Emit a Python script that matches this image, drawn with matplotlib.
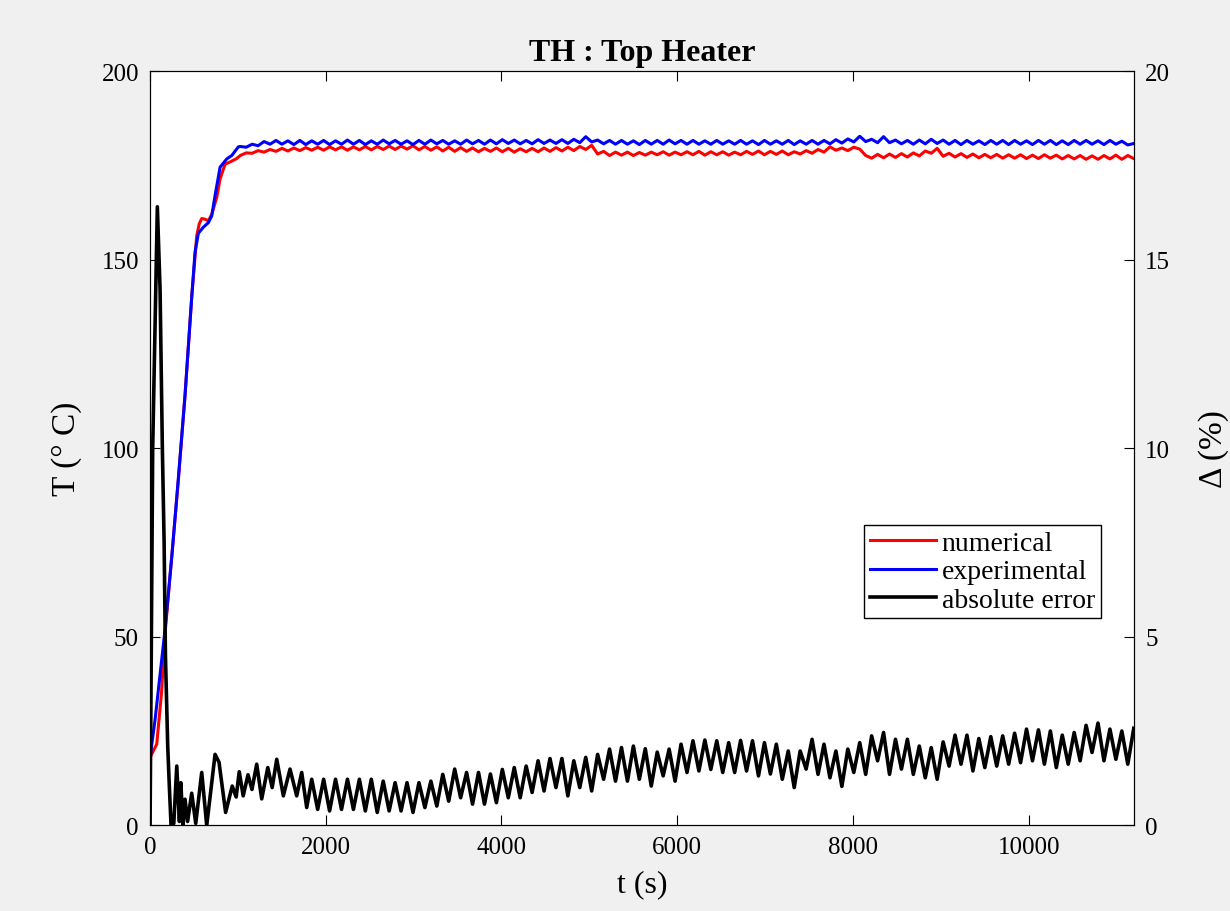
#!/usr/bin/env python
import sys
import numpy as np
import matplotlib
matplotlib.use('Agg')
import matplotlib.pyplot as plt

# sampling of the periodic part (s)
dt_s       = 67.8
grid_start = 1026.4
err_start  = 1840.0

# start-up phase
blue_t_early = [0, 57, 171, 250, 322, 398, 474, 512, 550, 607, 664, 702, 740, 797, 873, 930, 1005]
blue_v_early = [18.0, 28.0, 52.0, 72.0, 92.0, 114.0, 140.0, 152.0, 157.0, 158.6, 159.8, 161.6,
                167.0, 174.5, 176.7, 177.6, 179.9]

red_t_early = [0, 76, 130, 171, 250, 322, 398, 474, 531, 560, 588, 626, 664, 702, 759, 797,
               854, 911, 986]
red_v_early = [18.0, 21.5, 35.0, 51.0, 72.0, 91.5, 114.0, 140.0, 156.3, 159.5, 160.9, 160.7,
               160.3, 162.0, 166.5, 171.4, 175.3, 175.9, 176.8]

err_t_early = [0, 30, 83, 114, 140, 160, 175, 201, 220, 239,
               270, 304, 334, 350, 375, 398, 427, 474, 520, 588,
               645, 740, 785, 860, 935, 980, 1015, 1060, 1115, 1160,
               1214, 1271, 1340, 1390, 1442, 1517, 1593, 1669, 1726, 1783]
err_v_early = [0.0, 10.0, 16.4, 14.2, 10.0, 7.5, 4.5, 2.1, 1.0, 0.0,
               0.05, 1.57, 0.1, 1.13, 0.0, 0.69, 0.1, 0.85, 0.05, 1.4,
               0.0, 1.88, 1.67, 0.34, 1.04, 0.75, 1.42, 0.78, 1.34, 0.95,
               1.62, 0.70, 1.53, 1.0, 1.75, 0.78, 1.49, 0.78, 1.40, 0.47]

# plateau, one value per half oscillation
blue_v_grid = [
    180.0, 179.8, 180.6, 180.2, 181.3, 180.6, 181.6, 180.6, 181.5, 180.5,
    181.6, 180.5, 181.5, 180.6, 181.6, 180.5, 181.5, 180.6, 181.7, 180.6,
    181.6, 180.5, 181.5, 180.6, 181.7, 180.7, 181.6, 180.6, 181.5, 180.5,
    181.6, 180.6, 181.7, 180.7, 181.6, 180.6, 181.5, 180.6, 181.7, 180.7,
    181.6, 180.6, 181.7, 180.7, 181.8, 180.8, 181.7, 180.7, 181.6, 180.7,
    181.8, 180.8, 181.7, 180.8, 181.8, 180.8, 181.9, 181.0, 182.6, 181.2,
    181.7, 180.7, 181.6, 180.6, 181.6, 180.6, 181.5, 180.5, 181.6, 180.6,
    181.6, 180.6, 181.7, 180.7, 181.6, 180.6, 181.6, 180.6, 181.5, 180.6,
    181.6, 180.6, 181.5, 180.6, 181.6, 180.6, 181.5, 180.5, 181.6, 180.6,
    181.5, 180.6, 181.6, 180.5, 181.5, 180.6, 181.6, 180.6, 181.6, 180.7,
    181.8, 180.9, 182.0, 181.2, 182.7, 181.3, 181.9, 181.0, 182.6, 181.0,
    181.7, 180.7, 181.6, 180.6, 181.7, 180.7, 181.9, 180.8, 181.7, 180.6,
    181.6, 180.5, 181.6, 180.6, 181.5, 180.5, 181.6, 180.6, 181.6, 180.5,
    181.6, 180.6, 181.5, 180.5, 181.6, 180.6, 181.6, 180.5, 181.5, 180.5,
    181.6, 180.6, 181.6, 180.6, 181.5, 180.5, 181.6, 180.6, 181.4, 180.4,
    180.8]

red_v_grid = [
    177.6, 178.3, 178.2, 178.9, 178.5, 179.2, 178.7, 179.5, 178.8, 179.6,
    178.9, 179.7, 179.0, 179.8, 179.0, 179.9, 179.1, 179.9, 179.0, 179.9,
    179.1, 180.0, 179.1, 180.0, 179.2, 180.1, 179.2, 180.1, 179.3, 180.2,
    179.1, 180.0, 179.0, 179.9, 178.8, 179.8, 178.7, 179.7, 178.7, 179.6,
    178.6, 179.5, 178.7, 179.6, 178.6, 179.5, 178.5, 179.4, 178.6, 179.5,
    178.6, 179.6, 178.7, 179.7, 178.8, 179.8, 178.9, 180.0, 179.2, 180.3,
    178.0, 178.7, 177.6, 178.5, 177.7, 178.5, 177.6, 178.4, 177.7, 178.5,
    177.8, 178.6, 177.7, 178.5, 177.8, 178.6, 177.8, 178.7, 177.7, 178.6,
    177.8, 178.6, 177.7, 178.5, 177.8, 178.7, 177.9, 178.8, 177.8, 178.7,
    177.9, 178.8, 177.8, 178.6, 178.0, 178.9, 178.2, 179.2, 178.5, 179.9,
    179.0, 179.6, 178.9, 179.8, 179.3, 177.6, 176.9, 177.9, 177.0, 178.0,
    177.1, 178.1, 177.2, 178.3, 177.5, 178.8, 178.2, 179.5, 177.4, 178.2,
    177.2, 178.1, 177.1, 178.0, 177.0, 177.9, 177.0, 177.9, 176.9, 177.8,
    176.9, 177.8, 176.8, 177.7, 176.8, 177.8, 176.9, 177.7, 176.7, 177.6,
    176.7, 177.6, 176.6, 177.5, 176.6, 177.6, 176.7, 177.7, 176.6, 177.6,
    176.8]

err_v_grid = [
    1.22, 0.42, 1.22, 0.38, 1.22, 0.42, 1.22, 0.42, 1.22, 0.38,
    1.22, 0.34, 1.17, 0.38, 1.13, 0.38, 1.13, 0.34, 1.13, 0.47,
    1.17, 0.51, 1.35, 0.64, 1.49, 0.73, 1.40, 0.56, 1.40, 0.56,
    1.36, 0.60, 1.48, 0.73, 1.53, 0.73, 1.57, 0.87, 1.71, 0.91,
    1.77, 1.00, 1.77, 0.78, 1.71, 1.00, 1.80, 0.91, 1.88, 1.22,
    2.02, 1.17, 2.06, 1.17, 2.10, 1.22, 2.03, 1.04, 1.94, 1.31,
    2.02, 1.17, 2.15, 1.40, 2.24, 1.44, 2.26, 1.48, 2.24, 1.40,
    2.19, 1.40, 2.25, 1.44, 2.24, 1.31, 2.19, 1.36, 2.15, 1.22,
    1.97, 1.00, 1.97, 1.49, 2.28, 1.35, 2.15, 1.26, 1.97, 1.03,
    2.02, 1.40, 2.19, 1.35, 2.37, 1.71, 2.46, 1.35, 2.28, 1.49,
    2.28, 1.35, 2.10, 1.26, 2.06, 1.22, 2.21, 1.57, 2.39, 1.62,
    2.39, 1.44, 2.30, 1.53, 2.35, 1.57, 2.37, 1.62, 2.44, 1.66,
    2.55, 1.71, 2.53, 1.62, 2.50, 1.53, 2.39, 1.62, 2.46, 1.71,
    2.65, 1.93, 2.71, 1.71, 2.55, 1.75, 2.50, 1.62, 2.57]

x_ticks  = [0, 2000, 4000, 6000, 8000, 10000]
yl_ticks = [0, 50, 100, 150, 200]
yr_ticks = [0, 5, 10, 15, 20]


def series(t_early, v_early, start, v_grid):
    """
    Join start-up samples with the regularly sampled plateau
    """
    t_grid = start + dt_s * np.arange(len(v_grid))
    return np.concatenate([t_early, t_grid]), np.concatenate([v_early, v_grid])


def main():

    plt.rcParams['font.family'] = ['Liberation Serif', 'DejaVu Serif']

    t_red,  v_red  = series(red_t_early,  red_v_early,  grid_start, red_v_grid)
    t_blue, v_blue = series(blue_t_early, blue_v_early, grid_start, blue_v_grid)
    t_err,  v_err  = series(err_t_early,  err_v_early,  err_start,  err_v_grid)

    fig = plt.figure(figsize=(12.3, 9.12), dpi=100, facecolor='#f0f0f0')
    ax1 = fig.add_axes([0.122, 0.094, 0.8, 0.827])
    ax2 = ax1.twinx()

    l1, = ax1.plot(t_red,  v_red,  color='#ff0000', lw=2.2, label='numerical',
                   solid_joinstyle='round')
    l2, = ax1.plot(t_blue, v_blue, color='#0000ff', lw=2.2, label='experimental',
                   solid_joinstyle='round')
    l3, = ax2.plot(t_err,  v_err,  color='black',   lw=2.6, label='absolute error',
                   solid_joinstyle='round')

    ax1.set_xlim(0, 11200)
    ax1.set_ylim(0, 200)
    ax2.set_ylim(0, 20)
    ax1.set_xticks(x_ticks)
    ax1.set_yticks(yl_ticks)
    ax2.set_yticks(yr_ticks)

    ax1.tick_params(axis='x', direction='in', top=True, length=7, labelsize=18, pad=8)
    ax1.tick_params(axis='y', direction='in', length=7, labelsize=18, pad=8)
    ax2.tick_params(axis='y', direction='in', length=7, labelsize=18, pad=8)

    ax1.set_xlabel('t (s)', fontsize=23, labelpad=8)
    ax1.set_ylabel('T (° C)', fontsize=24, labelpad=14)
    ax2.set_ylabel('Δ (%)', fontsize=24, labelpad=20)
    ax1.set_title('TH : Top Heater', fontsize=23, fontweight='bold', pad=8)

    leg = ax2.legend(handles=[l1, l2, l3], loc='upper right',
                     bbox_to_anchor=(0.966, 0.398), fontsize=20,
                     fancybox=False, framealpha=1, edgecolor='black',
                     handlelength=2.4, handletextpad=0.2, borderpad=0.2,
                     labelspacing=0.1, borderaxespad=0)
    leg.get_frame().set_linewidth(1.0)

    fig.savefig('out.png', dpi=100, facecolor=fig.get_facecolor())


# Entry point
if __name__ == "__main__":
    sys.exit(main())
